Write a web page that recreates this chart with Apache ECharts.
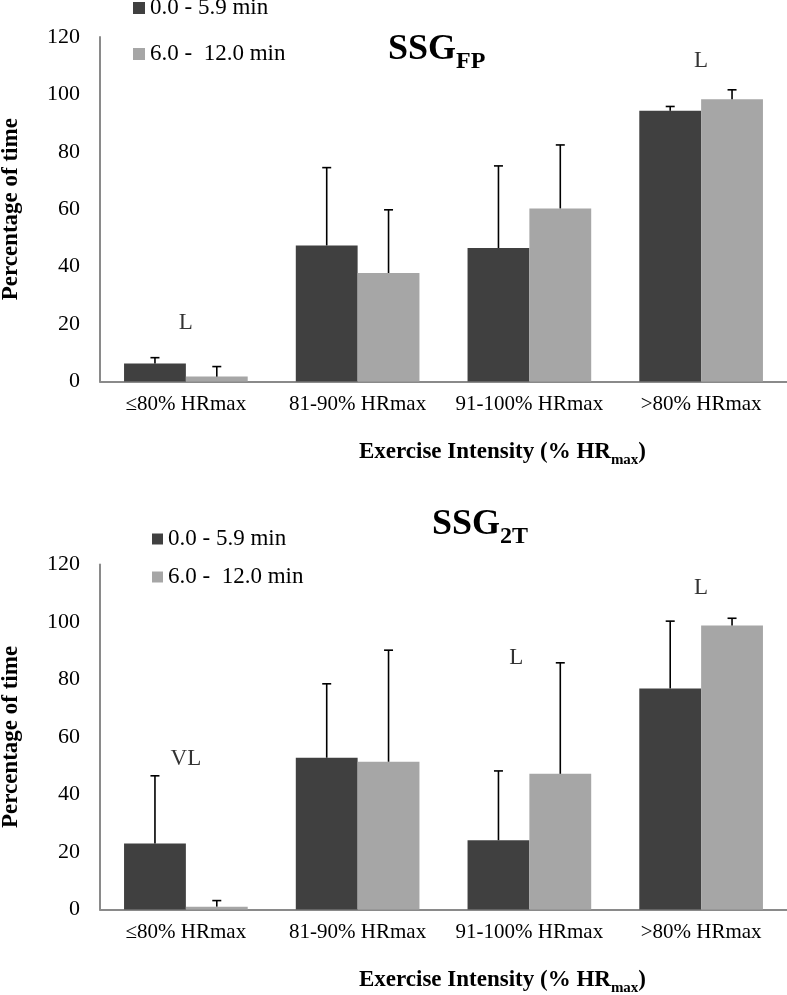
<!DOCTYPE html>
<html><head><meta charset="utf-8">
<script src="https://cdn.jsdelivr.net/npm/echarts@6/dist/echarts.min.js"></script>
<style>html,body{margin:0;padding:0;background:#fff}#c{width:787px;height:995px}</style>
</head><body><div id="c"></div>
<script>
// ---- data ----
const categories = ['≤80% HRmax', '81-90% HRmax', '91-100% HRmax', '>80% HRmax'];
const seriesNames = ['0.0 - 5.9 min', '6.0 -  12.0 min'];
const yMin = 0, yMax = 120, yStep = 20;

// SSG FP
const fpEarly = [6.3, 47.4, 46.5, 94.3];
const fpEarlySD = [2.0, 27.1, 28.6, 1.5];
const fpLate = [1.7, 37.8, 60.3, 98.3];
const fpLateSD = [3.5, 22.0, 22.1, 3.3];
const fpMarks = [[0, 20.4, 'L'], [3, 111.6, 'L']];

// SSG 2T
const t2Early = [23.0, 52.8, 24.1, 76.9];
const t2EarlySD = [23.5, 25.7, 24.1, 23.4];
const t2Late = [1.0, 51.4, 47.2, 98.8];
const t2LateSD = [2.1, 38.8, 38.6, 2.5];
const t2Marks = [[0, 52.3, 'VL'], [2, 87.5, 'L'], [3, 111.8, 'L']];

// ---- styling ----
const FONT = '"Liberation Serif", "Times New Roman", serif';
const DARK = '#404040', LIGHT = '#a6a6a6', AXIS = '#8a8a8a';
const GAP = 0.28;
// horizontal nudges of annotation labels (px), keyed by [chart][category]
const markNudge = { 1: { 2: -13 } };

function barSeries(name, vals, idx, color) {
  return {
    type: 'bar', name, xAxisIndex: idx, yAxisIndex: idx, data: vals,
    barGap: '0%', barCategoryGap: (GAP * 100) + '%',
    itemStyle: { color }, z: 2, silent: true
  };
}
function errSeries(vals, sds, idx, side) {
  return {
    type: 'custom', name: 'err' + idx + side, xAxisIndex: idx, yAxisIndex: idx, z: 5, silent: true,
    data: vals.map((v, i) => [i, v, v + sds[i]]),
    encode: { x: 0, y: [1, 2] },
    renderItem(params, api) {
      const base = api.coord([api.value(0), api.value(1)]);
      const top = api.coord([api.value(0), api.value(2)]);
      const band = api.size([1, 0])[0];
      const bw = band * (1 - GAP) / 2;
      const x = base[0] + side * bw / 2;
      const style = { stroke: '#000', lineWidth: 1.6 };
      return { type: 'group', children: [
        { type: 'line', shape: { x1: x, y1: base[1], x2: x, y2: top[1] }, style },
        { type: 'line', shape: { x1: x - 4.5, y1: top[1], x2: x + 4.5, y2: top[1] }, style }
      ]};
    }
  };
}
function markSeries(marks, idx) {
  const nudge = markNudge[idx] || {};
  return {
    type: 'scatter', name: 'mark' + idx, xAxisIndex: idx, yAxisIndex: idx, silent: true,
    symbolSize: 1, itemStyle: { color: 'rgba(0,0,0,0)' }, z: 6,
    data: marks.map(m => ({ value: [m[0], m[1]], label: { formatter: m[2], offset: [nudge[m[0]] || 0, 0] } })),
    label: { show: true, position: 'inside', color: '#000', fontFamily: FONT, fontSize: 23 }
  };
}
function xAxis(idx) {
  return {
    type: 'category', gridIndex: idx, data: categories,
    axisLine: { lineStyle: { color: AXIS, width: 2 } }, axisTick: { show: false },
    axisLabel: { color: '#000', fontFamily: FONT, fontSize: 21, margin: 12, interval: 0, hideOverlap: false },
    name: '{n|Exercise Intensity (% HR}{s|max}{n|)}', nameLocation: 'middle', nameGap: 59,
    nameTextStyle: {
      padding: [0, 0, 0, 118],
      rich: {
        n: { fontFamily: FONT, fontWeight: 'bold', fontSize: 23, lineHeight: 26, verticalAlign: 'top', color: '#000' },
        s: { fontFamily: FONT, fontWeight: 'bold', fontSize: 15, lineHeight: 40, color: '#000' }
      }
    }
  };
}
function yAxis(idx) {
  return {
    type: 'value', gridIndex: idx, min: yMin, max: yMax, interval: yStep,
    axisLine: { show: true, lineStyle: { color: AXIS, width: 2 } }, axisTick: { show: false },
    splitLine: { show: false },
    axisLabel: { color: '#000', fontFamily: FONT, fontSize: 22, margin: 20 },
    name: 'Percentage of time', nameLocation: 'middle', nameGap: 77, nameRotate: 90,
    nameTextStyle: { color: '#000', fontFamily: FONT, fontWeight: 'bold', fontSize: 23 }
  };
}
function titleRich() {
  return {
    a: { fontFamily: FONT, fontWeight: 'bold', fontSize: 36, lineHeight: 36, verticalAlign: 'top', color: '#000' },
    b: { fontFamily: FONT, fontWeight: 'bold', fontSize: 24, lineHeight: 59, color: '#000' }
  };
}

const chart = echarts.init(document.getElementById('c'), null, { renderer: 'canvas' });
chart.setOption({
  animation: false,
  backgroundColor: '#fff',
  title: [
    { text: '{a|SSG}{b|FP}', left: 388, top: 32, padding: 0, textStyle: { rich: titleRich() } },
    { text: '{a|SSG}{b|2T}', left: 432, top: 507, padding: 0, textStyle: { rich: titleRich() } }
  ],
  legend: [
    { data: seriesNames, orient: 'vertical', left: 133, top: -3.5, padding: 0, itemGap: 23,
      itemWidth: 12, itemHeight: 12, icon: 'rect', itemStyle: { borderWidth: 0 },
      textStyle: { fontFamily: FONT, fontSize: 23, color: '#000', lineHeight: 23 } },
    { data: seriesNames, orient: 'vertical', left: 152, top: 527.5, padding: 0, itemGap: 15,
      itemWidth: 11, itemHeight: 11, icon: 'rect', itemStyle: { borderWidth: 0 },
      textStyle: { fontFamily: FONT, fontSize: 23, color: '#000', lineHeight: 23 } }
  ],
  grid: [
    { left: 100, right: 0, top: 37, height: 344.5, containLabel: false, outerBoundsMode: 'none' },
    { left: 100, right: 0, top: 564.5, height: 345, containLabel: false, outerBoundsMode: 'none' }
  ],
  xAxis: [xAxis(0), xAxis(1)],
  yAxis: [yAxis(0), yAxis(1)],
  series: [
    barSeries(seriesNames[0], fpEarly, 0, DARK),
    barSeries(seriesNames[1], fpLate, 0, LIGHT),
    errSeries(fpEarly, fpEarlySD, 0, -1),
    errSeries(fpLate, fpLateSD, 0, 1),
    markSeries(fpMarks, 0),
    barSeries(seriesNames[0], t2Early, 1, DARK),
    barSeries(seriesNames[1], t2Late, 1, LIGHT),
    errSeries(t2Early, t2EarlySD, 1, -1),
    errSeries(t2Late, t2LateSD, 1, 1),
    markSeries(t2Marks, 1)
  ]
});
</script></body></html>
